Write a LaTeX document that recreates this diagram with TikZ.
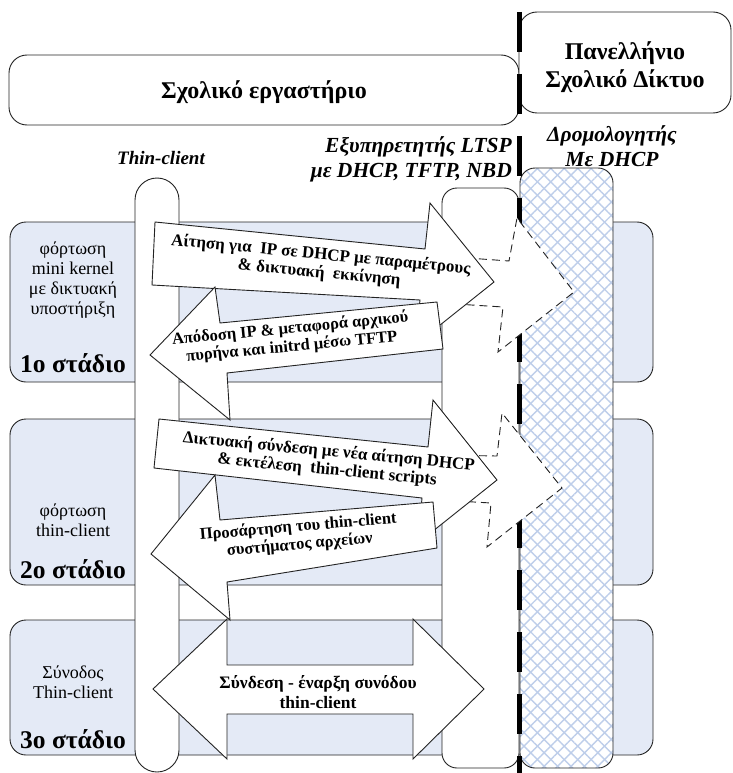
\documentclass[tikz,border=0pt]{standalone}
\usepackage{fontspec}
\setmainfont{Liberation Serif}
\usepackage{tikz}
\usetikzlibrary{patterns.meta}

\definecolor{stageblue}{RGB}{228,234,246}
\definecolor{hatchblue}{RGB}{190,206,234}
\definecolor{linegray}{RGB}{35,35,35}

\tikzset{
  panel/.style={draw=linegray, line width=0.9pt, inner sep=0pt},
  blockarrow/.style={draw=linegray, line width=0.9pt, fill=white, line join=miter},
  ghostarrow/.style={blockarrow, dash pattern=on 8pt off 5pt},
}

\begin{document}
\begin{tikzpicture}[x=1pt,y=-1pt]
\useasboundingbox (0,0) rectangle (732,773);

% stages
\begin{scope}[every node/.style={panel,fill=stageblue,rounded corners=16pt,minimum width=643pt}]
  \node[minimum height=160pt] (stage1) at (331.5,302) {};
  \node[minimum height=166pt] (stage2) at (331.5,502) {};
  \node[minimum height=135pt] (stage3) at (331.5,687.5) {};
\end{scope}

% columns
\begin{scope}[every node/.style={panel,fill=white}]
  \node[rounded corners=22pt,minimum width=44pt,minimum height=594pt] (client) at (157,475) {};
  \node[rounded corners=15pt,minimum width=77pt,minimum height=580pt] (server) at (480.5,478) {};
\end{scope}
\node[panel,rounded corners=15pt,minimum width=93pt,minimum height=600pt,
      preaction={fill=white},
      preaction={pattern={Lines[angle=-45,distance=9.5pt,line width=1.4pt]},pattern color=hatchblue},
      pattern={Lines[angle=45,distance=9.5pt,line width=1.4pt]},pattern color=hatchblue] (router) at (566.5,468) {};

% top boxes
\begin{scope}[every node/.style={panel,fill=white,rounded corners=18pt}]
  \node[minimum width=510pt,minimum height=70pt] (lab) at (264,90) {};
  \node[minimum width=212pt,minimum height=101pt] (net) at (625,62.5) {};
\end{scope}
\begin{scope}[every node/.style={inner sep=0pt,align=center,font=\bfseries\fontsize{24}{28}\selectfont}]
  \node (lablbl) at (264,92) {Σχολικό εργαστήριο};
  \node (netlbl) at (625,67) {Πανελλήνιο\\Σχολικό Δίκτυο};
\end{scope}

% boundary
\coordinate (edgetop) at (519,12);
\coordinate (edgebot) at (519,773);
\draw[line width=5pt,dash pattern=on 40pt off 22pt] (edgetop) -- (edgebot);

% arrows
\draw[ghostarrow] (440,256) -- (509,261) -- (517,218) -- (574,292) -- (498,352) -- (503,307) -- (440,303) -- cycle;
\draw[ghostarrow] (440,455) -- (497,456) -- (502,413) -- (562,488) -- (487,547) -- (491,503) -- (440,500) -- cycle;

\draw[blockarrow] (155,222) -- (425,249) -- (430,203) -- (494,282) -- (415,345) -- (420,300) -- (152,285) -- cycle;
\draw[blockarrow] (150,355) -- (215,287) -- (220,323) -- (437,302) -- (443,349) -- (227,373) -- (230,420) -- cycle;
\draw[blockarrow] (159,419) -- (428,447) -- (433,400) -- (497,480) -- (418,543) -- (422,498) -- (154,468) -- cycle;
\draw[blockarrow] (151,554) -- (215,475) -- (220,520) -- (433,502) -- (437,548) -- (227,582) -- (230,620) -- cycle;
\draw[blockarrow] (153,689) -- (227,619) -- (227,665) -- (413,665) -- (413,619) -- (484,689)
                  -- (413,759) -- (413,714) -- (227,714) -- (227,759) -- cycle;

% labels
\begin{scope}[every node/.style={font=\bfseries\itshape\fontsize{21.5}{25}\selectfont,inner sep=0pt}]
  \node[font=\bfseries\itshape\fontsize{19}{25}\selectfont] (clientlbl) at (161,158) {Thin-client};
  \node[align=right,anchor=east] (serverlbl) at (512,159) {Εξυπηρετητής LTSP\\με DHCP, TFTP, NBD};
  \node[align=center] (routerlbl) at (612,146) {Δρομολογητής\\Με DHCP};
\end{scope}

\begin{scope}[every node/.style={align=center,inner sep=0pt,font=\fontsize{18}{20}\selectfont}]
  \node (load1) at (73,280) {φόρτωση\\mini kernel\\με δικτυακή\\υποστήριξη};
  \node (load2) at (73,520) {φόρτωση\\thin-client};
  \node (load3) at (73,682) {Σύνοδος\\Thin-client};
\end{scope}

\begin{scope}[every node/.style={inner sep=0pt,font=\bfseries\fontsize{25.5}{28}\selectfont}]
  \node (stage1lbl) at (73,363) {1ο στάδιο};
  \node (stage2lbl) at (73,569) {2ο στάδιο};
  \node (stage3lbl) at (73,739) {3ο στάδιο};
\end{scope}

\begin{scope}[every node/.style={align=center,inner sep=0pt,font=\bfseries\fontsize{17}{18}\selectfont}]
  \node[rotate=-5.5] (request) at (320,264) {Αίτηση για\ \ IP σε DHCP με παραμέτρους\\\&~δικτυακή\ \ εκκίνηση};
  \node[rotate=5.5,font=\bfseries\fontsize{16.5}{18}\selectfont] (offer) at (291,338) {Απόδοση IP \& μεταφορά αρχικού\\πυρήνα και initrd μέσω TFTP};
  \node[rotate=-5.5] (netboot) at (328,461) {Δικτυακή σύνδεση με νέα αίτηση DHCP\\\& εκτέλεση\ \ thin-client scripts};
  \node[rotate=5,font=\bfseries\fontsize{16.5}{18}\selectfont] (mount) at (299,536) {Προσάρτηση του thin-client\\συστήματος αρχείων};
  \node[font=\bfseries\fontsize{17.5}{20}\selectfont] (session) at (318,692) {Σύνδεση - έναρξη συνόδου\\thin-client};
\end{scope}
\end{tikzpicture}
\end{document}
